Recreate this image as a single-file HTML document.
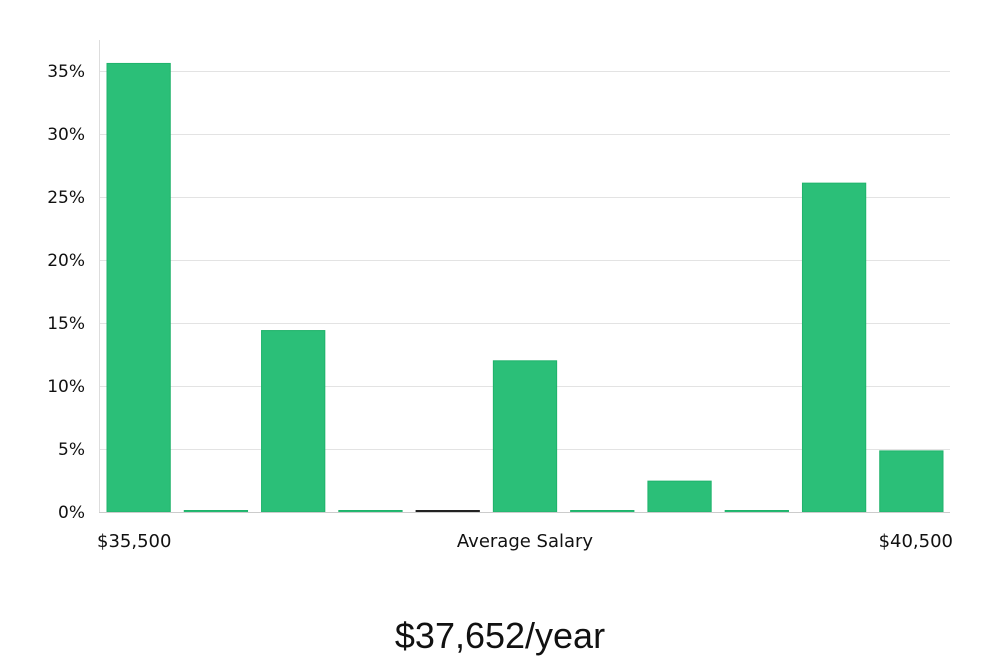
<!DOCTYPE html>
<html><head><meta charset="utf-8"><style>
body{margin:0;background:#fff;width:1000px;height:660px;overflow:hidden;font-family:"DejaVu Sans","Liberation Sans",sans-serif;}
</style></head><body>
<svg id="chart" width="1000" height="660" xmlns="http://www.w3.org/2000/svg">
<g id="grid"></g>
<g id="bars"></g>
<g id="yaxis"></g>
<line x1="99.5" y1="40" x2="99.5" y2="512" stroke="#ddd"/>
<line x1="99" y1="512.5" x2="950" y2="512.5" stroke="#ccc"/>
<text x="97" y="547" font-size="18" fill="#111">$35,500</text>
<text x="525" y="547" font-size="18" fill="#111" text-anchor="middle">Average Salary</text>
<text x="953" y="547" font-size="18" fill="#111" text-anchor="end">$40,500</text>
<text x="500" y="648" font-size="36" fill="#111" text-anchor="middle" font-family="'Liberation Sans',sans-serif">$37,652/year</text>
</svg>
<script>
const categories=["b1","b2","b3","b4","b5","b6","b7","b8","b9","b10","b11"];
const values=[35.6,0,14.4,0,0,12.0,0,2.45,0,26.1,4.85];
const yTicks=[0,5,10,15,20,25,30,35];
const yTickLabels=["0%","5%","10%","15%","20%","25%","30%","35%"];
const NS="http://www.w3.org/2000/svg";
const x0=100,x1=950,yBase=512,yTop=71,yMax=35;
const y=v=>yBase-(v/yMax)*(yBase-yTop);
const band=(x1-x0)/categories.length;
const xb=i=>x0+i*band;
const grid=document.getElementById('grid'),ya=document.getElementById('yaxis'),bars=document.getElementById('bars');
yTicks.forEach((t,i)=>{
  if(t>0){const l=document.createElementNS(NS,'line');
  
  
  l.setAttribute('x1',x0);l.setAttribute('x2',x1);l.setAttribute('y1',Math.round(y(t))+0.5);l.setAttribute('y2',Math.round(y(t))+0.5);
  l.setAttribute('stroke','#e3e3e3');grid.appendChild(l);}
  const tx=document.createElementNS(NS,'text');
  
  
  tx.setAttribute('x',85);tx.setAttribute('y',y(t)+6);tx.setAttribute('text-anchor','end');
  tx.setAttribute('font-size','17');tx.setAttribute('fill','#111');tx.textContent=yTickLabels[i];ya.appendChild(tx);
});
values.forEach((v,i)=>{
  const r=document.createElementNS(NS,'rect');
  
  
  const top=Math.min(y(v),yBase-1.5);
  r.setAttribute('x',xb(i)+7);r.setAttribute('width',band-14);
  r.setAttribute('y',top);r.setAttribute('height',yBase-top);
  r.setAttribute('fill',i===4?'#222':'#2bbf78');
  r.setAttribute('stroke',i===4?'#222':'#1fb36b');r.setAttribute('stroke-width','1');
  bars.appendChild(r);
});
</script>
</body></html>
